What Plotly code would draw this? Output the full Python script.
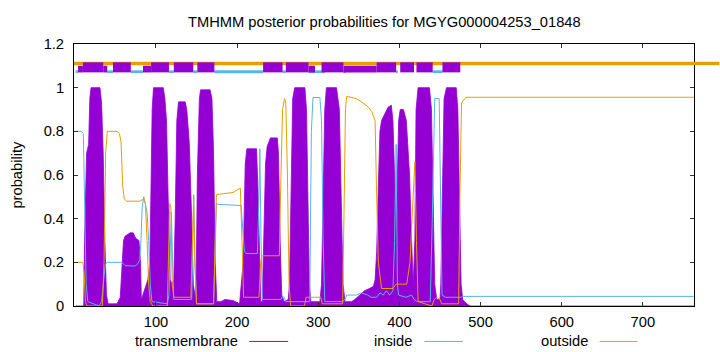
import plotly.graph_objects as go

# ---------------- data ----------------
title_text = "TMHMM posterior probabilities for MGYG000004253_01848"
seq_len = 763
x_ticks = [100, 200, 300, 400, 500, 600, 700]
y_ticks = [0, 0.2, 0.4, 0.6, 0.8, 1.0, 1.2]
y_tick_text = ["0", "0.2", "0.4", "0.6", "0.8", "1", "1.2"]
series_names = ["transmembrane", "inside", "outside"]

# posterior probability profiles: (residue, probability)
tm_profile = [
    (1, 0.0), (11, 0.0), (12, 0.3), (13, 0.55), (14.5, 0.70), (17, 0.74), (18.5, 0.95),
    (20, 1.0), (31, 1.0), (33, 0.93), (35, 0.7), (37, 0.3), (39, 0.05), (41, 0.01),
    (52, 0.01), (56, 0.04), (58, 0.15), (60, 0.3), (62, 0.32), (68, 0.335), (72, 0.335),
    (75, 0.31), (79, 0.30), (81, 0.2), (82, 0.03), (84, 0.05), (87, 0.08), (90, 0.12),
    (92.5, 0.2), (93.7, 0.5), (95.3, 0.9), (97, 1.0), (109, 1.0), (111, 0.95), (113, 0.85),
    (115, 0.5), (117.5, 0.12), (120, 0.10), (122, 0.12), (123.7, 0.4), (125.7, 0.85),
    (127.8, 0.935), (136, 0.935), (138, 0.90), (141, 0.75), (144, 0.4), (146, 0.1),
    (148, 0.05), (149.5, 0.1), (151, 0.6), (153.5, 0.95), (155, 0.99), (166.7, 0.99),
    (169, 0.95), (171, 0.7), (173, 0.2), (175, 0.02), (180, 0.02), (185, 0.03),
    (195, 0.025), (203, 0.01), (207.5, 0.2), (210, 0.65), (212, 0.72), (224, 0.72),
    (226, 0.5), (227.5, 0.2), (229, 0.02), (231, 0.02), (233, 0.3), (235, 0.65),
    (237, 0.73), (241, 0.77), (249.5, 0.77), (251, 0.7), (253, 0.3), (255, 0.05),
    (258, 0.02), (263, 0.03), (264.5, 0.1), (266.5, 0.6), (268.5, 0.95), (271, 1.0),
    (283.5, 1.0), (285.5, 0.9), (287.5, 0.5), (289, 0.1), (291, 0.02), (302, 0.02),
    (304, 0.1), (306, 0.5), (308, 0.9), (310, 1.0), (322.5, 1.0), (326, 0.9),
    (328.5, 0.5), (330.5, 0.1), (333, 0.02), (341, 0.02), (345, 0.03), (351, 0.05),
    (357, 0.07), (363, 0.08), (368, 0.09), (370, 0.12), (372, 0.25), (374, 0.55),
    (376, 0.8), (378, 0.85), (382, 0.88), (386, 0.91), (390, 0.92), (392, 0.85),
    (394, 0.6), (396, 0.35), (397, 0.5), (399, 0.85), (401, 0.9), (405, 0.9),
    (408.5, 0.85), (412.5, 0.6), (415, 0.3), (417, 0.1), (419, 0.3), (420.5, 0.9),
    (423, 1.0), (437, 1.0), (439.5, 0.9), (441.5, 0.5), (443.5, 0.1), (446, 0.03),
    (450, 0.03), (451, 0.1), (453, 0.6), (455, 0.95), (458, 1.0), (470, 1.0),
    (472, 0.9), (474, 0.5), (476, 0.1), (478, 0.03), (483, 0.01), (487, 0.0), (763, 0.0),
]

inside_profile = [
    (1, 0.80), (8, 0.80), (10.5, 0.79), (12, 0.5), (14, 0.1), (16, 0.02), (30, 0.0),
    (33, 0.02), (35, 0.1), (37.5, 0.19), (40, 0.20), (58, 0.20), (62, 0.185), (74, 0.183),
    (77, 0.19), (80, 0.21), (81.5, 0.3), (83, 0.45), (85, 0.50), (87, 0.47), (89, 0.43),
    (91, 0.3), (93, 0.1), (95, 0.02), (114, 0.01), (116, 0.05), (117.5, 0.3), (119, 0.43),
    (120.5, 0.2), (122, 0.03), (124, 0.03), (144, 0.03), (145, 0.2), (146.5, 0.51),
    (148, 0.2), (150, 0.01), (171, 0.01), (173, 0.3), (174.5, 0.47), (176, 0.466),
    (205, 0.46), (207, 0.35), (209, 0.25), (211, 0.24), (225, 0.24), (227, 0.5),
    (228, 0.72), (229.5, 0.3), (231, 0.03), (250, 0.03), (254, 0.03), (256, 0.045),
    (258, 0.04), (260, 0.02), (289.5, 0.02), (291.5, 0.8), (293.5, 0.955), (302, 0.955),
    (304, 0.85), (306, 0.3), (308, 0.02), (330, 0.02), (333, 0.03), (335, 0.05),
    (347, 0.05), (353, 0.06), (361, 0.05), (365, 0.04), (372, 0.04), (376, 0.06),
    (380, 0.05), (384, 0.07), (388, 0.05), (392, 0.07), (394, 0.3), (396, 0.74),
    (397.5, 0.1), (399, 0.05), (408, 0.04), (415, 0.05), (418, 0.03), (422, 0.02),
    (438, 0.02), (440.5, 0.4), (443.5, 0.95), (449, 0.95), (450.5, 0.6), (452.5, 0.05),
    (457, 0.04), (476, 0.04), (478, 0.044), (763, 0.044),
]

outside_profile = [
    (1, 0.20), (10, 0.20), (11.5, 0.15), (13, 0.02), (15, 0.0), (34, 0.0), (36, 0.2),
    (38, 0.7), (40, 0.80), (52, 0.80), (55, 0.79), (57, 0.75), (59, 0.55), (61, 0.49),
    (64, 0.48), (80, 0.48), (85, 0.49), (87, 0.47), (89, 0.3), (91, 0.1), (93, 0.02),
    (96, 0.0), (114, 0.0), (115.5, 0.2), (117, 0.47), (118.5, 0.45), (120, 0.1),
    (122, 0.04), (143, 0.04), (145, 0.3), (146.5, 0.5), (148, 0.2), (150, 0.01),
    (171, 0.01), (173, 0.3), (174.5, 0.51), (195, 0.52), (200, 0.53), (204, 0.54),
    (206, 0.3), (208, 0.04), (227, 0.04), (229, 0.2), (230.5, 0.23), (252, 0.23),
    (254, 0.6), (256, 0.9), (258.5, 0.95), (260, 0.93), (262, 0.6), (264, 0.1),
    (266, 0.0), (283, 0.0), (285, 0.04), (298, 0.04), (303, 0.04), (305, 0.01),
    (330, 0.01), (332, 0.5), (333.5, 0.9), (335, 0.96), (347, 0.95), (355, 0.93),
    (362, 0.91), (366, 0.89), (370, 0.85), (372, 0.5), (374, 0.2), (378, 0.08),
    (392, 0.08), (396, 0.1), (409, 0.1), (413, 0.2), (417, 0.55), (419, 0.66),
    (421, 0.3), (423, 0.02), (440, 0.0), (443, 0.03), (446, 0.04), (450, 0.03),
    (452, 0.01), (473, 0.01), (474.5, 0.5), (476.5, 0.93), (482, 0.956), (763, 0.956),
]

# predicted topology (residue ranges)
tm_segments = [(10, 35), (47, 69), (94, 116), (122, 146), (151, 172), (232, 256),
               (260, 288), (304, 331), (372, 396), (401, 418), (421, 441), (453, 475)]
tm_segments_low = [(4, 10), (35, 40), (84, 94), (288, 296), (331, 372)]
inside_segments = [(1, 4), (40, 47), (69, 84), (116, 122), (146, 151), (172, 232),
                   (256, 260), (288, 308), (331, 334), (396, 398), (441, 453)]
outside_segments = [(-1, 763)]

# band levels (y) of the topology track
LEVEL_OUT, LEVEL_TM, LEVEL_TM_LOW, LEVEL_IN = 1.111, 1.093, 1.085, 1.073

# ---------------- style ----------------
PURPLE, BLUE, ORANGE = "#9400D3", "#56B4E9", "#E69F00"
FONT = "Liberation Sans, Arial, sans-serif"
FS = 14.7
X_RANGE = [-1, 763]
Y_RANGE = [0, 1.2]
W, H = 720, 352
PL, PR, PT, PB = 73.5, 694.5, 44, 306.5   # plot box in pixels


def px_x(px):
    return (px - PL) / (PR - PL)


def px_y(py):
    return (PB - py) / (PB - PT)


def split(profile):
    return [p for p, _ in profile], [v for _, v in profile]


def seg_xy(segs, level):
    xs, ys = [], []
    for a, b in segs:
        xs += [a, b, None]
        ys += [level, level, None]
    return xs, ys


fig = go.Figure()

tx, ty = split(tm_profile)
fig.add_trace(go.Scatter(x=tx, y=ty, mode="lines", fill="tozeroy",
                         line=dict(color=PURPLE, width=0.8), fillcolor=PURPLE,
                         showlegend=False, hoverinfo="skip"))
ix, iy = split(inside_profile)
fig.add_trace(go.Scatter(x=ix, y=iy, mode="lines", line=dict(color=BLUE, width=1),
                         showlegend=False, hoverinfo="skip"))
ox, oy = split(outside_profile)
fig.add_trace(go.Scatter(x=ox, y=oy, mode="lines", line=dict(color=ORANGE, width=1),
                         showlegend=False, hoverinfo="skip"))

# topology track
sx, sy = seg_xy(outside_segments, LEVEL_OUT)
fig.add_trace(go.Scatter(x=sx, y=sy, mode="lines", line=dict(color=ORANGE, width=3.4),
                         showlegend=False, hoverinfo="skip"))
sx, sy = seg_xy(inside_segments, LEVEL_IN)
fig.add_trace(go.Scatter(x=sx, y=sy, mode="lines", line=dict(color=BLUE, width=2.8),
                         showlegend=False, hoverinfo="skip"))
sx, sy = seg_xy(tm_segments_low, LEVEL_TM_LOW)
fig.add_trace(go.Scatter(x=sx, y=sy, mode="lines", line=dict(color=PURPLE, width=6.7),
                         showlegend=False, hoverinfo="skip"))
sx, sy = seg_xy(tm_segments, LEVEL_TM)
fig.add_trace(go.Scatter(x=sx, y=sy, mode="lines", line=dict(color=PURPLE, width=10),
                         showlegend=False, hoverinfo="skip"))

shapes = []
# outside band continues past the right border (as in the original rendering)
shapes.append(dict(type="line", xref="paper", yref="paper", x0=1.0, x1=px_x(W),
                   y0=LEVEL_OUT / Y_RANGE[1], y1=LEVEL_OUT / Y_RANGE[1],
                   line=dict(color=ORANGE, width=3.4)))

annotations = []
legend_layout = [  # text right edge, sample x0, sample x1 (pixels)
    (240, 249, 288),
    (414, 424.5, 463),
    (590, 600, 638),
]
legend_py = 342
for name, col, (tr, l0, l1) in zip(series_names, [PURPLE, BLUE, ORANGE], legend_layout):
    annotations.append(dict(text=name, xref="paper", yref="paper", x=px_x(tr), y=px_y(legend_py),
                            xanchor="right", yanchor="middle", showarrow=False,
                            font=dict(family=FONT, size=FS, color="#000000")))
    shapes.append(dict(type="line", xref="paper", yref="paper", x0=px_x(l0), x1=px_x(l1),
                       y0=px_y(legend_py), y1=px_y(legend_py), line=dict(color=col, width=1)))

annotations.append(dict(text="probability", xref="paper", yref="paper", x=px_x(16), y=0.5,
                        xanchor="center", yanchor="middle", textangle=-90, showarrow=False,
                        font=dict(family=FONT, size=FS, color="#000000")))
annotations.append(dict(text=title_text, xref="paper", yref="paper", x=0.5, y=px_y(21.5),
                        xanchor="center", yanchor="middle", showarrow=False,
                        font=dict(family=FONT, size=FS, color="#000000")))

fig.update_layout(
    width=W, height=H,
    margin=dict(l=PL, r=W - PR, t=PT, b=H - PB, pad=0),
    paper_bgcolor="white", plot_bgcolor="white",
    font=dict(family=FONT, size=FS, color="#000000"),
    shapes=shapes, annotations=annotations,
    xaxis=dict(range=X_RANGE, tickvals=x_ticks, ticks="inside", ticklen=4, tickcolor="#333333",
               showline=True, linecolor="#000000", linewidth=1, mirror="ticks",
               showgrid=False, zeroline=False, ticklabelstandoff=2),
    yaxis=dict(range=Y_RANGE, tickvals=y_ticks, ticktext=y_tick_text, ticks="inside",
               ticklen=4, tickcolor="#333333", showline=True, linecolor="#000000",
               linewidth=1, mirror="ticks", showgrid=False, zeroline=False,
               ticklabelstandoff=6),
)

fig.write_html("out.html")
